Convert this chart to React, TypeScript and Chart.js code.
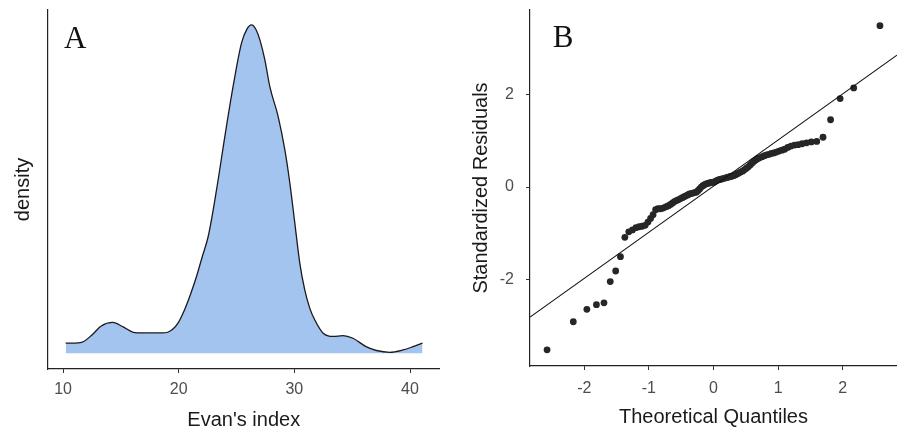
import React, { useEffect, useRef } from "react";
import { Chart, registerables } from "chart.js";

Chart.register(...registerables);

// ---------- Panel A: density of Evan's index ----------
const densX = [10.23, 11.0, 11.6, 12.5, 13.3, 14.3, 15.2, 16.2, 17.5, 18.6, 19.1, 19.5, 19.94, 20.5, 21.0, 21.54, 22.05, 22.55, 23.27, 23.99, 24.7, 25.43, 25.9, 26.3, 26.7, 27.02, 27.45, 27.88, 28.6, 29.18, 29.61, 30.04, 30.47, 30.9, 31.33, 31.76, 32.49, 33.35, 34.2, 35.07, 36.2, 37.1, 38.25, 39.4, 40.2, 41.08];
const densY = [0.0034, 0.0034, 0.0036, 0.0061, 0.0091, 0.0103, 0.0088, 0.0069, 0.0068, 0.0068, 0.0071, 0.0081, 0.0101, 0.0145, 0.0195, 0.0257, 0.0325, 0.0391, 0.0547, 0.0726, 0.0893, 0.1039, 0.1086, 0.11, 0.1083, 0.105, 0.0983, 0.0893, 0.0793, 0.0681, 0.057, 0.0436, 0.0302, 0.0212, 0.0151, 0.0112, 0.0067, 0.0056, 0.0059, 0.005, 0.0022, 0.0009, 0.0003, 0.0011, 0.0021, 0.0034];
const densXTicks = [10, 20, 30, 40];

// ---------- Panel B: normal Q-Q plot of standardized residuals ----------
const qqX = [
  -2.576, -2.17, -1.96, -1.812, -1.695, -1.598, -1.514, -1.44, -1.372, -1.311,
  -1.254, -1.2, -1.15, -1.103, -1.058, -1.015, -0.974, -0.935, -0.896, -0.86,
  -0.824, -0.789, -0.755, -0.722, -0.69, -0.659, -0.628, -0.598, -0.568, -0.539,
  -0.51, -0.482, -0.454, -0.426, -0.399, -0.372, -0.345, -0.319, -0.292, -0.266,
  -0.24, -0.215, -0.189, -0.164, -0.138, -0.113, -0.088, -0.063, -0.038, -0.013,
  0.013, 0.038, 0.063, 0.088, 0.113, 0.138, 0.164, 0.189, 0.215, 0.24,
  0.266, 0.292, 0.319, 0.345, 0.372, 0.399, 0.426, 0.454, 0.482, 0.51,
  0.539, 0.568, 0.598, 0.628, 0.659, 0.69, 0.722, 0.755, 0.789, 0.824,
  0.86, 0.896, 0.935, 0.974, 1.015, 1.058, 1.103, 1.15, 1.2, 1.254,
  1.311, 1.372, 1.44, 1.514, 1.598, 1.695, 1.812, 1.96, 2.17, 2.576,
];
const qqY = [
  -3.53, -2.92, -2.65, -2.55, -2.51, -2.05, -1.82, -1.51, -1.09, -0.97,
  -0.93, -0.88, -0.86, -0.85, -0.83, -0.76, -0.68, -0.6, -0.49, -0.47,
  -0.47, -0.46, -0.44, -0.42, -0.4, -0.37, -0.34, -0.31, -0.29, -0.27,
  -0.25, -0.23, -0.21, -0.19, -0.17, -0.15, -0.14, -0.13, -0.12, -0.11,
  -0.08, -0.04, 0.0, 0.03, 0.05, 0.07, 0.08, 0.09, 0.1, 0.1,
  0.11, 0.13, 0.15, 0.16, 0.17, 0.18, 0.19, 0.2, 0.21, 0.22,
  0.23, 0.24, 0.25, 0.27, 0.29, 0.31, 0.33, 0.35, 0.38, 0.41,
  0.44, 0.48, 0.52, 0.56, 0.59, 0.62, 0.64, 0.66, 0.68, 0.7,
  0.71, 0.73, 0.74, 0.76, 0.78, 0.8, 0.82, 0.86, 0.89, 0.91,
  0.92, 0.94, 0.96, 0.98, 0.99, 1.08, 1.46, 1.92, 2.15, 3.5,
];
const refLineX = [-2.84, 2.84];
const refLineY = [-2.82, 2.86];
const qqXTicks = [-2, -1, 0, 1, 2];
const qqYTicks = [-2, 0, 2];

const panelLabels = ["A", "B"];
const axisTitles = {
  aX: "Evan's index",
  aY: "density",
  bX: "Theoretical Quantiles",
  bY: "Standardized Residuals",
};

const SANS = '"Liberation Sans", Arial, sans-serif';
const TICK_COLOR = "#4d4d4d";
const TITLE_COLOR = "#1a1a1a";
const AXIS_COLOR = "#222222";

function letterPlugin(text: string, dx: number, dy: number) {
  return {
    id: "panelLetter" + text,
    afterDraw(chart: any) {
      const { ctx, chartArea } = chart;
      ctx.save();
      ctx.font = '31px "Liberation Serif", "Times New Roman", serif';
      ctx.fillStyle = "#111";
      ctx.textBaseline = "alphabetic";
      ctx.textAlign = "left";
      ctx.fillText(text, chartArea.left + dx, chartArea.top + dy);
      ctx.restore();
    },
  };
}

function fixedTicks(values: number[]) {
  return (scale: any) => {
    scale.ticks = values.map((v) => ({ value: v }));
  };
}

function fitSize(dim: "width" | "height", size: number) {
  return (s: any) => {
    s[dim] = size;
    s.paddingTop = 0;
    s.paddingBottom = 0;
    s.paddingLeft = 0;
    s.paddingRight = 0;
  };
}

function PanelA() {
  const ref = useRef<HTMLCanvasElement>(null);
  useEffect(() => {
    if (!ref.current) return;
    const chart = new Chart(ref.current, {
      type: "line",
      data: {
        datasets: [
          {
            data: densX.map((x, i) => ({ x, y: densY[i] })),
            borderColor: "#1a1a1a",
            borderWidth: 1.3,
            backgroundColor: "rgb(164,196,240)",
            fill: "origin",
            pointRadius: 0,
            cubicInterpolationMode: "monotone",
          },
        ],
      },
      options: {
        animation: false,
        responsive: false,
        maintainAspectRatio: false,
        layout: { autoPadding: false, padding: { top: 10, right: 10.5, bottom: 0, left: 0 } },
        plugins: { legend: { display: false }, tooltip: { enabled: false } },
        scales: {
          x: {
            type: "linear",
            min: 8.7,
            max: 42.55,
            afterBuildTicks: fixedTicks(densXTicks),
            afterFit: fitSize("height", 63),
            grid: { display: true, drawOnChartArea: false, drawTicks: true, tickLength: 4, color: "#333", lineWidth: 1 },
            border: { display: true, color: AXIS_COLOR, width: 1.2 },
            ticks: { color: TICK_COLOR, font: { family: SANS, size: 16 }, padding: 7, maxRotation: 0 },
            title: { display: true, text: axisTitles.aX, color: TITLE_COLOR, font: { family: SANS, size: 20 }, padding: { top: 0, bottom: 0 } },
          },
          y: {
            type: "linear",
            min: -0.0053,
            max: 0.115,
            afterFit: fitSize("width", 48),
            grid: { display: false },
            border: { display: true, color: AXIS_COLOR, width: 1.2 },
            ticks: { display: false },
            title: { display: true, text: axisTitles.aY, color: TITLE_COLOR, font: { family: SANS, size: 20 }, padding: { top: 11, bottom: 0 } },
          },
        },
      },
      plugins: [letterPlugin(panelLabels[0], 16, 38)],
    } as any);
    return () => chart.destroy();
  }, []);
  return <canvas ref={ref} width={450} height={432} style={{ width: 450, height: 432, display: "block" }} />;
}

function PanelB() {
  const ref = useRef<HTMLCanvasElement>(null);
  useEffect(() => {
    if (!ref.current) return;
    const chart = new Chart(ref.current, {
      type: "scatter",
      data: {
        datasets: [
          {
            type: "line",
            data: refLineX.map((x, i) => ({ x, y: refLineY[i] })),
            borderColor: "#111",
            borderWidth: 1.1,
            pointRadius: 0,
            fill: false,
          },
          {
            type: "scatter",
            data: qqX.map((x, i) => ({ x, y: qqY[i] })),
            backgroundColor: "#262626",
            borderWidth: 0,
            pointRadius: 3.4,
          },
        ],
      },
      options: {
        animation: false,
        responsive: false,
        maintainAspectRatio: false,
        layout: { autoPadding: false, padding: { top: 10, right: 0, bottom: 0, left: 0 } },
        plugins: { legend: { display: false }, tooltip: { enabled: false } },
        scales: {
          x: {
            type: "linear",
            min: -2.84,
            max: 2.84,
            afterBuildTicks: fixedTicks(qqXTicks),
            afterFit: fitSize("height", 66),
            grid: { display: true, drawOnChartArea: false, drawTicks: true, tickLength: 4, color: "#333", lineWidth: 1 },
            border: { display: true, color: AXIS_COLOR, width: 1.2 },
            ticks: { color: TICK_COLOR, font: { family: SANS, size: 16 }, padding: 9, maxRotation: 0 },
            title: { display: true, text: axisTitles.bX, color: TITLE_COLOR, font: { family: SANS, size: 20 }, padding: { top: 0, bottom: 3 } },
          },
          y: {
            type: "linear",
            min: -3.88,
            max: 3.84,
            afterBuildTicks: fixedTicks(qqYTicks),
            afterFit: fitSize("width", 80),
            grid: { display: true, drawOnChartArea: false, drawTicks: true, tickLength: 4, color: "#333", lineWidth: 1 },
            border: { display: true, color: AXIS_COLOR, width: 1.2 },
            ticks: { color: TICK_COLOR, font: { family: SANS, size: 16 }, padding: 12 },
            title: { display: true, text: axisTitles.bY, color: TITLE_COLOR, font: { family: SANS, size: 20 }, padding: { top: 19, bottom: 0 } },
          },
        },
      },
      plugins: [letterPlugin(panelLabels[1], 22.7, 36.7)],
    } as any);
    return () => chart.destroy();
  }, []);
  return <canvas ref={ref} width={447} height={432} style={{ width: 447, height: 432, display: "block" }} />;
}

export default function App() {
  return (
    <div style={{ position: "fixed", left: 0, top: 0, width: 897, height: 432, background: "#fff", overflow: "hidden" }}>
      <div style={{ position: "absolute", left: 0, top: 0 }}>
        <PanelA />
      </div>
      <div style={{ position: "absolute", left: 450, top: 0 }}>
        <PanelB />
      </div>
    </div>
  );
}
